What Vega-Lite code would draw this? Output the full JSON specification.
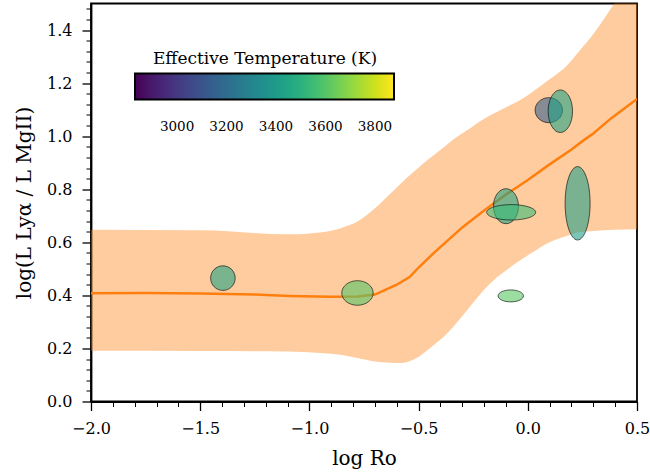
{
  "$schema": "https://vega.github.io/schema/vega-lite/v6.json",
  "width": 546,
  "height": 398,
  "autosize": "none",
  "padding": {"left": 91, "top": 3.5, "right": 13, "bottom": 73.5},
  "config": {
    "view": {"stroke": "black", "strokeWidth": 1.8},
    "font": "DejaVu Serif",
    "axis": {"grid": false}
  },
  "datasets": {
    "band": [
      {"x": -2.0, "lo": 0.191, "hi": 0.647},
      {"x": -1.5, "lo": 0.190, "hi": 0.645},
      {"x": -1.1, "lo": 0.188, "hi": 0.630},
      {"x": -0.95, "lo": 0.183, "hi": 0.637},
      {"x": -0.85, "lo": 0.175, "hi": 0.655},
      {"x": -0.78, "lo": 0.164, "hi": 0.678},
      {"x": -0.7, "lo": 0.151, "hi": 0.728},
      {"x": -0.63, "lo": 0.146, "hi": 0.783},
      {"x": -0.58, "lo": 0.145, "hi": 0.823},
      {"x": -0.53, "lo": 0.155, "hi": 0.860},
      {"x": -0.48, "lo": 0.180, "hi": 0.896},
      {"x": -0.43, "lo": 0.213, "hi": 0.929},
      {"x": -0.38, "lo": 0.248, "hi": 0.961},
      {"x": -0.34, "lo": 0.283, "hi": 0.988},
      {"x": -0.28, "lo": 0.342, "hi": 1.021},
      {"x": -0.2, "lo": 0.421, "hi": 1.066},
      {"x": -0.14, "lo": 0.469, "hi": 1.092},
      {"x": -0.1, "lo": 0.494, "hi": 1.109},
      {"x": -0.03, "lo": 0.535, "hi": 1.138},
      {"x": 0.03, "lo": 0.566, "hi": 1.172},
      {"x": 0.09, "lo": 0.596, "hi": 1.209},
      {"x": 0.17, "lo": 0.622, "hi": 1.259},
      {"x": 0.24, "lo": 0.639, "hi": 1.325},
      {"x": 0.3, "lo": 0.643, "hi": 1.385},
      {"x": 0.4, "lo": 0.647, "hi": 1.505},
      {"x": 0.5, "lo": 0.649, "hi": 1.630}
    ],
    "fit": [
      {"x": -2.0, "y": 0.408},
      {"x": -1.75, "y": 0.409},
      {"x": -1.5, "y": 0.407},
      {"x": -1.25, "y": 0.403},
      {"x": -1.09, "y": 0.398},
      {"x": -0.9, "y": 0.395},
      {"x": -0.78, "y": 0.396},
      {"x": -0.7, "y": 0.403},
      {"x": -0.6, "y": 0.44},
      {"x": -0.54, "y": 0.47},
      {"x": -0.5, "y": 0.505},
      {"x": -0.43, "y": 0.56},
      {"x": -0.3, "y": 0.656},
      {"x": -0.2, "y": 0.72},
      {"x": -0.1, "y": 0.78},
      {"x": 0.0, "y": 0.835},
      {"x": 0.09, "y": 0.888},
      {"x": 0.2, "y": 0.95},
      {"x": 0.258, "y": 0.986},
      {"x": 0.3, "y": 1.01},
      {"x": 0.381, "y": 1.067},
      {"x": 0.5, "y": 1.14}
    ],
    "stars": [
      {"id": "A", "logRo": -1.396, "ratio": 0.465, "xerr": 0.056, "yerr": 0.046, "teff": 3440},
      {"id": "B", "logRo": -0.780, "ratio": 0.409, "xerr": 0.072, "yerr": 0.046, "teff": 3600},
      {"id": "C", "logRo": 0.096, "ratio": 1.098, "xerr": 0.063, "yerr": 0.047, "teff": 3140},
      {"id": "D", "logRo": 0.149, "ratio": 1.094, "xerr": 0.056, "yerr": 0.080, "teff": 3440},
      {"id": "E", "logRo": -0.100, "ratio": 0.736, "xerr": 0.057, "yerr": 0.066, "teff": 3440},
      {"id": "F", "logRo": -0.076, "ratio": 0.713, "xerr": 0.112, "yerr": 0.029, "teff": 3540},
      {"id": "G", "logRo": 0.228, "ratio": 0.747, "xerr": 0.057, "yerr": 0.138, "teff": 3420},
      {"id": "H", "logRo": -0.078, "ratio": 0.398, "xerr": 0.058, "yerr": 0.023, "teff": 3610}
    ]
  },
  "layer": [
    {
      "data": {"name": "band"},
      "mark": {"type": "area", "color": "#ff7f0e", "opacity": 0.4, "clip": true, "interpolate": "monotone"},
      "encoding": {
        "x": {
          "field": "x", "type": "quantitative",
          "scale": {"domain": [-2, 0.5], "nice": false, "zero": false},
          "axis": {
            "orient": "bottom",
            "values": [-2, -1.5, -1, -0.5, 0, 0.5],
            "format": ".1f",
            "tickSize": 9, "tickWidth": 1.3, "tickColor": "black",
            "domainColor": "black", "domainWidth": 1.8,
            "labelFont": "DejaVu Serif", "labelFontSize": 16, "labelColor": "black", "labelPadding": 10,
            "labelFlush": false,
            "title": "log Ro", "titleFont": "DejaVu Serif", "titleFontSize": 20,
            "titleFontWeight": "normal", "titleColor": "black", "titlePadding": 12
          }
        },
        "y": {
          "field": "lo", "type": "quantitative",
          "scale": {"domain": [0, 1.5], "nice": false, "zero": false},
          "axis": {
            "orient": "left",
            "values": [0, 0.2, 0.4, 0.6, 0.8, 1.0, 1.2, 1.4],
            "format": ".1f",
            "tickSize": 9, "tickWidth": 1.3, "tickColor": "black",
            "domainColor": "black", "domainWidth": 1.8,
            "labelFont": "DejaVu Serif", "labelFontSize": 16, "labelColor": "black", "labelPadding": 10,
            "labelFlush": false,
            "title": "log(L Lyα / L MgII)", "titleFont": "DejaVu Serif", "titleFontSize": 20,
            "titleFontWeight": "normal", "titleColor": "black", "titlePadding": 12
          }
        },
        "y2": {"field": "hi"}
      }
    },
    {
      "data": {"name": "fit"},
      "mark": {"type": "line", "color": "#ff7f0e", "strokeWidth": 2.5, "clip": true},
      "encoding": {
        "x": {
          "field": "x", "type": "quantitative",
          "axis": {
            "orient": "bottom",
            "values": [-1.9, -1.8, -1.7, -1.6, -1.4, -1.3, -1.2, -1.1, -0.9, -0.8, -0.7, -0.6, -0.4, -0.3, -0.2, -0.1, 0.1, 0.2, 0.3, 0.4],
            "tickSize": 5, "tickWidth": 1, "tickColor": "black",
            "labels": false, "domain": false, "title": null
          }
        },
        "y": {
          "field": "y", "type": "quantitative",
          "axis": {
            "orient": "left",
            "values": [0.04, 0.08, 0.12, 0.16, 0.24, 0.28, 0.32, 0.36, 0.44, 0.48, 0.52, 0.56, 0.64, 0.68, 0.72, 0.76, 0.84, 0.88, 0.92, 0.96, 1.04, 1.08, 1.12, 1.16, 1.24, 1.28, 1.32, 1.36, 1.44, 1.48],
            "tickSize": 5, "tickWidth": 1, "tickColor": "black",
            "labels": false, "domain": false, "title": null
          }
        }
      }
    },
    {
      "data": {"name": "stars"},
      "mark": {"type": "point", "filled": true, "size": 4, "opacity": 1, "fillOpacity": 0.6, "stroke": "black", "strokeOpacity": 0.6, "strokeWidth": 1},
      "encoding": {
        "x": {"field": "logRo", "type": "quantitative", "axis": null},
        "y": {"field": "ratio", "type": "quantitative", "axis": null},
        "color": {
          "field": "teff", "type": "quantitative",
          "scale": {"scheme": "viridis", "domain": [2830, 3877]},
          "legend": {
            "orient": "none", "direction": "horizontal",
            "legendX": 44, "legendY": 47,
            "gradientLength": 259, "gradientThickness": 26,
            "gradientStrokeColor": "black", "gradientStrokeWidth": 2,
            "values": [3000, 3200, 3400, 3600, 3800],
            "format": "d",
            "title": "Effective Temperature (K)", "titleLimit": 400,
            "titleFont": "DejaVu Serif", "titleFontSize": 17, "titleFontWeight": "normal",
            "titleColor": "black", "titleAnchor": "middle", "titlePadding": 6,
            "labelFont": "DejaVu Serif", "labelFontSize": 13.5, "labelColor": "black",
            "labelOffset": 20, "labelOverlap": false
          }
        },
        "shape": {
          "field": "id", "type": "nominal", "legend": null,
          "scale": {
            "domain": ["A", "B", "C", "D", "E", "F", "G", "H"],
            "range": [
              "M -12.3,0 A 12.3,12.3 0 1,0 12.3,0 A 12.3,12.3 0 1,0 -12.3,0 Z",
              "M -15.7,0 A 15.7,12.3 0 1,0 15.7,0 A 15.7,12.3 0 1,0 -15.7,0 Z",
              "M -13.7,0 A 13.7,12.5 0 1,0 13.7,0 A 13.7,12.5 0 1,0 -13.7,0 Z",
              "M -12.2,0 A 12.2,21.3 0 1,0 12.2,0 A 12.2,21.3 0 1,0 -12.2,0 Z",
              "M -12.5,0 A 12.5,17.5 0 1,0 12.5,0 A 12.5,17.5 0 1,0 -12.5,0 Z",
              "M -24.5,0 A 24.5,7.7 0 1,0 24.5,0 A 24.5,7.7 0 1,0 -24.5,0 Z",
              "M -12.5,0 A 12.5,36.7 0 1,0 12.5,0 A 12.5,36.7 0 1,0 -12.5,0 Z",
              "M -12.7,0 A 12.7,6 0 1,0 12.7,0 A 12.7,6 0 1,0 -12.7,0 Z"
            ]
          }
        }
      }
    }
  ],
  "resolve": {"axis": {"x": "independent", "y": "independent"}}
}
